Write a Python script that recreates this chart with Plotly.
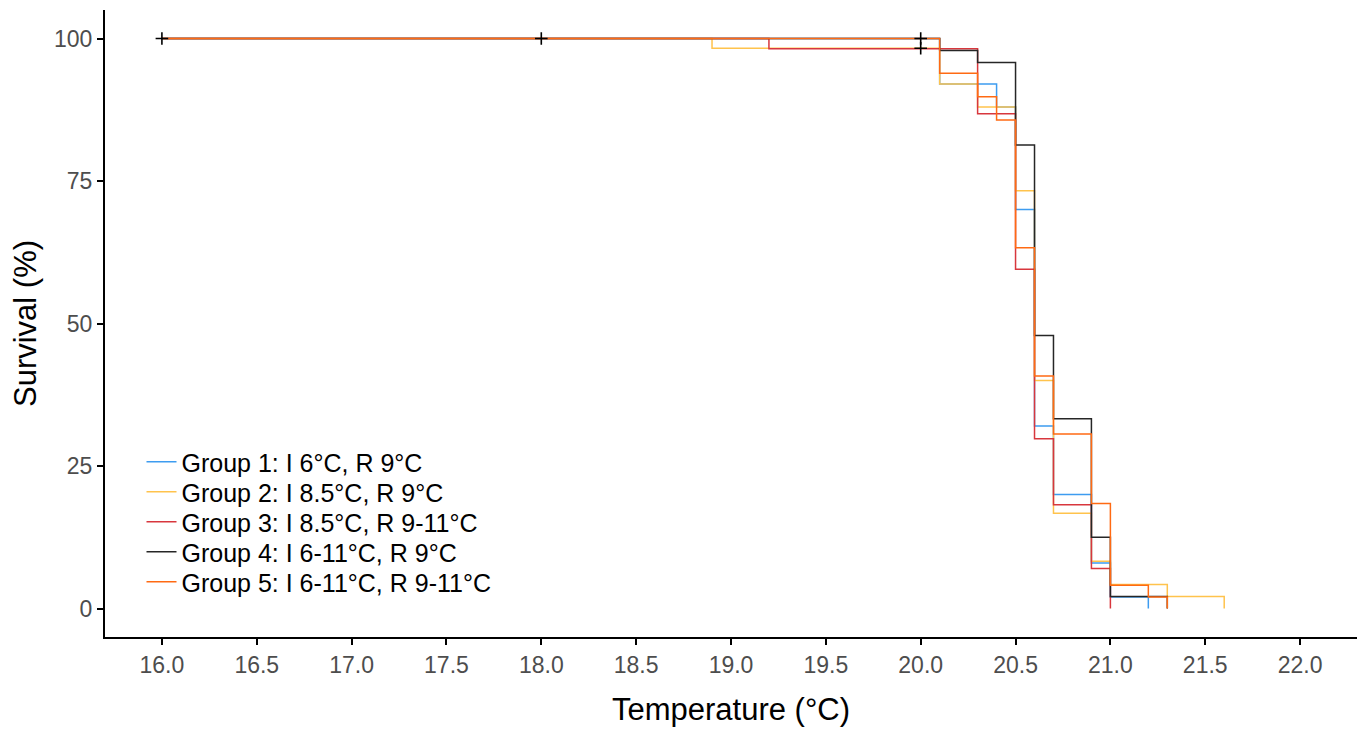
import plotly.graph_objects as go

group_names = ["Group 1: I 6°C, R 9°C", "Group 2: I 8.5°C, R 9°C", "Group 3: I 8.5°C, R 9-11°C",
               "Group 4: I 6-11°C, R 9°C", "Group 5: I 6-11°C, R 9-11°C"]

g1_t = [16, 20.1, 20.4, 20.5, 20.6, 20.7, 20.9, 21.0, 21.2]
g1_s = [100, 92, 88, 70, 32, 20, 8, 2, 0]
g2_t = [16, 18.9, 20.1, 20.3, 20.5, 20.6, 20.7, 20.9, 21.0, 21.3, 21.6]
g2_s = [100, 98.3, 92, 88, 73.3, 40, 16.7, 8.3, 4.2, 2.1, 0]
g3_t = [16, 19.2, 20.3, 20.5, 20.6, 20.7, 20.9, 21.0]
g3_s = [100, 98.2, 86.8, 59.5, 29.8, 18.2, 7.0, 0]
g4_t = [16, 20.1, 20.3, 20.5, 20.6, 20.7, 20.9, 21.0, 21.3]
g4_s = [100, 97.9, 95.8, 81.3, 47.9, 33.3, 12.5, 2.1, 0]
g5_t = [16, 20.1, 20.3, 20.4, 20.5, 20.6, 20.7, 20.9, 21.0, 21.2, 21.3]
g5_s = [100, 93.9, 89.8, 85.7, 63.3, 40.8, 30.6, 18.4, 4.1, 2.0, 0]

censor_t = [16, 18, 20, 20]
censor_s = [100, 100, 100, 98.3]

x_ticks = [16.0, 16.5, 17.0, 17.5, 18.0, 18.5, 19.0, 19.5, 20.0, 20.5, 21.0, 21.5, 22.0]
y_ticks = [0, 25, 50, 75, 100]

colors = ["#3D9CF0", "#FFC34D", "#D8373D", "#262626", "#FF6A13"]

# plot area geometry (pixels) used for legend placement
PL, PR, PT, PB = 105, 1357, 10, 637
legend_rows_px = [462, 492, 522, 552, 582]

fig = go.Figure()
series = [(g1_t, g1_s), (g2_t, g2_s), (g3_t, g3_s), (g4_t, g4_s), (g5_t, g5_s)]
legend_ids = ["legend", "legend2", "legend3", "legend4", "legend5"]
for (t, s), name, c, lid in zip(series, group_names, colors, legend_ids):
    fig.add_trace(go.Scatter(x=t, y=s, mode="lines", line=dict(shape="hv", color=c, width=1.5),
                             name=name, legend=lid))

fig.add_trace(go.Scatter(x=censor_t, y=censor_s, mode="markers", showlegend=False,
                         marker=dict(symbol="cross-thin", size=9, line=dict(color="black", width=1.6))))

legend_layout = {}
for lid, ypx in zip(legend_ids, legend_rows_px):
    legend_layout[lid] = dict(
        x=(141.5 - PL) / (PR - PL), y=(PB - ypx) / (PB - PT),
        xanchor="left", yanchor="middle", bgcolor="rgba(0,0,0,0)",
        font=dict(size=25, color="black"), itemwidth=30)

fig.update_layout(
    width=1363, height=730,
    margin=dict(l=PL, r=1363 - PR, t=PT, b=730 - PB),
    plot_bgcolor="white", paper_bgcolor="white",
    font=dict(family="Liberation Sans, Arial, sans-serif", color="black"),
    xaxis=dict(range=[15.7, 22.3], tickvals=x_ticks, ticktext=[f"{v:.1f}" for v in x_ticks],
               showgrid=False, zeroline=False, showline=True, linecolor="black", linewidth=2,
               ticks="outside", ticklen=6, tickcolor="black", tickwidth=1.5,
               tickfont=dict(size=23, color="#4D4D4D"), automargin=False,
               title=dict(text="Temperature (°C)", font=dict(size=31, color="black"), standoff=22)),
    yaxis=dict(range=[-5, 105], tickvals=y_ticks, showgrid=False, zeroline=False,
               showline=True, linecolor="black", linewidth=2,
               ticks="outside", ticklen=6, tickcolor="black", tickwidth=1.5,
               tickfont=dict(size=23, color="#4D4D4D"), automargin=False,
               title=dict(text="Survival (%)", font=dict(size=31, color="black"), standoff=8)),
    **legend_layout,
)

fig.write_html("out.html")
